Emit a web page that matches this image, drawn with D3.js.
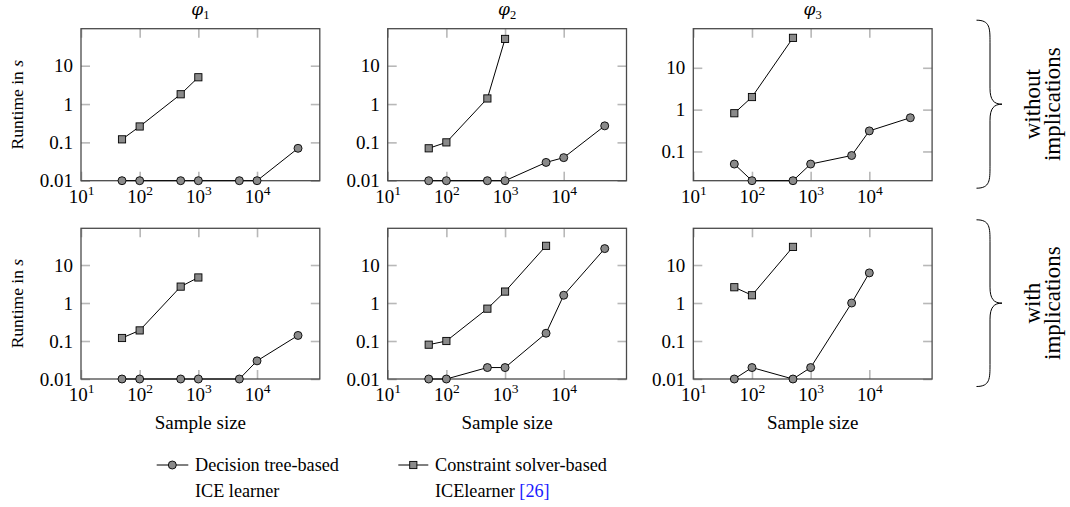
<!DOCTYPE html>
<html><head><meta charset="utf-8">
<script src="https://cdn.jsdelivr.net/npm/d3@7"></script>
</head><body style="margin:0;background:#fff"><svg id="c" width="1070" height="507"></svg>
<script>
// ---- data ----
const sampleSizes = [50, 100, 500, 1000, 5000, 10000, 50000];
const xTickValues = [10, 100, 1000, 10000];
const yTickValues = [0.01, 0.1, 1, 10];
const yTickLabels = ["0.01", "0.1", "1", "10"];
const formulaNames = ["1", "2", "3"];
const rowLabels = [["without", "implications"], ["with", "implications"]];

// Decision tree-based ICE learner, without implications
const treeWithout1 = [0.01, 0.01, 0.01, 0.01, 0.01, 0.01, 0.07];
const treeWithout2 = [0.01, 0.01, 0.01, 0.01, 0.03, 0.04, 0.27];
const treeWithout3 = [0.05, 0.02, 0.02, 0.05, 0.08, 0.31, 0.64];
// Constraint solver-based ICE learner, without implications
const solverWithout1 = [0.12, 0.26, 1.8, 5];
const solverWithout2 = [0.07, 0.1, 1.4, 50];
const solverWithout3 = [0.82, 2.0, 52];
// Decision tree-based, with implications
const treeWith1 = [0.01, 0.01, 0.01, 0.01, 0.01, 0.03, 0.14];
const treeWith2 = [0.01, 0.01, 0.02, 0.02, 0.16, 1.6, 27];
const treeWith3 = [0.01, 0.02, 0.01, 0.02, 1.0, 6.2];
// Constraint solver-based, with implications
const solverWith1 = [0.12, 0.19, 2.7, 4.7];
const solverWith2 = [0.08, 0.1, 0.71, 2.0, 32];
const solverWith3 = [2.6, 1.6, 30];

// axis ranges
const xDomain = [10, 117500];
const yDomainDefault = [0.01, 92.5];
const yDomainPhi3Without = [0.02, 86];

// ---- layout ----
const FONT = "Liberation Serif";
const svg = d3.select("#c");
const colX = [81, 387.7, 693.3];
const panelW = 238.8;
const rowY = [[28.7, 180.7], [228.3, 379]];
const tickLen = 9;

const panels = [
  {row:0, col:0, tree:treeWithout1, solver:solverWithout1, yd:yDomainDefault},
  {row:0, col:1, tree:treeWithout2, solver:solverWithout2, yd:yDomainDefault},
  {row:0, col:2, tree:treeWithout3, solver:solverWithout3, yd:yDomainPhi3Without},
  {row:1, col:0, tree:treeWith1, solver:solverWith1, yd:yDomainDefault},
  {row:1, col:1, tree:treeWith2, solver:solverWith2, yd:yDomainDefault},
  {row:1, col:2, tree:treeWith3, solver:solverWith3, yd:yDomainDefault},
];

const markerFill = "#8a8a8a";
const tickColor = "#b8b8b8";

function styleTicks(g){
  g.select(".domain").remove();
  g.selectAll(".tick line").attr("stroke", tickColor).attr("stroke-width", 1.6);
}

panels.forEach(p => {
  const x0 = colX[p.col], x1 = x0 + panelW;
  const [y0, y1] = rowY[p.row];
  const x = d3.scaleLog().domain(xDomain).range([x0, x1]);
  const y = d3.scaleLog().domain(p.yd).range([y1, y0]);
  const g = svg.append("g");

  const yt = yTickValues.filter(v => v >= p.yd[0] - 1e-9 && v <= p.yd[1]);
  const xt = xTickValues;

  const gb = g.append("g").attr("transform", `translate(0,${y1})`)
    .call(d3.axisBottom(x).tickValues(xt).tickSize(-tickLen).tickPadding(8.5).tickFormat(d => d));
  styleTicks(gb);
  gb.selectAll(".tick text").each(function(d){
    const t = d3.select(this);
    t.text(null).style("font-size", "19px").style("font-family", FONT).attr("fill", "#000");
    t.append("tspan").text("10");
    t.append("tspan").attr("dy", -8).style("font-size", "13.5px").text(Math.round(Math.log10(d)));
  });
  const gt = g.append("g").attr("transform", `translate(0,${y0})`)
    .call(d3.axisTop(x).tickValues(xt).tickSize(-tickLen).tickFormat(""));
  styleTicks(gt);
  const gl = g.append("g").attr("transform", `translate(${x0},0)`)
    .call(d3.axisLeft(y).tickValues(yt).tickSize(-tickLen).tickPadding(8)
      .tickFormat(d => yTickLabels[yTickValues.indexOf(d)]));
  styleTicks(gl);
  gl.selectAll(".tick text").style("font-size", "19px").style("font-family", FONT).attr("fill", "#000");
  const gr = g.append("g").attr("transform", `translate(${x1},0)`)
    .call(d3.axisRight(y).tickValues(yt).tickSize(-tickLen).tickFormat(""));
  styleTicks(gr);

  g.append("rect").attr("x", x0).attr("y", y0).attr("width", x1 - x0).attr("height", y1 - y0)
    .attr("fill", "none").attr("stroke", "#4a4a4a").attr("stroke-width", 1.3);

  const line = d3.line().x((d, i) => x(sampleSizes[i])).y(d => y(d));
  g.append("path").datum(p.tree).attr("d", line).attr("fill", "none").attr("stroke", "#000").attr("stroke-width", 1);
  g.selectAll("circle.t").data(p.tree).join("circle").attr("class", "t")
    .attr("cx", (d, i) => x(sampleSizes[i])).attr("cy", d => y(d)).attr("r", 4)
    .attr("fill", markerFill).attr("stroke", "#000").attr("stroke-width", 0.9);
  g.append("path").datum(p.solver).attr("d", line).attr("fill", "none").attr("stroke", "#000").attr("stroke-width", 1);
  g.selectAll("rect.s").data(p.solver).join("rect").attr("class", "s")
    .attr("x", (d, i) => x(sampleSizes[i]) - 3.6).attr("y", d => y(d) - 3.6)
    .attr("width", 7.2).attr("height", 7.2)
    .attr("fill", markerFill).attr("stroke", "#000").attr("stroke-width", 0.9);

  const cx = (x0 + x1) / 2, cy = (y0 + y1) / 2;
  if (p.col === 0) {
    const tl = svg.append("text").attr("transform", `translate(23,${cy}) rotate(-90)`)
      .attr("text-anchor", "middle").style("font-size", "17.5px").style("font-family", FONT);
    tl.append("tspan").text("Runtime in ");
    tl.append("tspan").style("font-style", "italic").text("s");
  }
  if (p.row === 1) {
    svg.append("text").attr("x", cx).attr("y", 429).attr("text-anchor", "middle")
      .style("font-size", "19px").style("font-family", FONT).text("Sample size");
  }
  if (p.row === 0) {
    const tt = svg.append("text").attr("x", cx).attr("y", 15).attr("text-anchor", "middle")
      .style("font-size", "18px").style("font-family", FONT);
    tt.append("tspan").style("font-style", "italic").style("font-family", "DejaVu Serif").style("font-size", "17px").text("φ");
    tt.append("tspan").attr("dy", 4).style("font-size", "12.5px").text(formulaNames[p.col]);
  }
});

// braces and row labels
rowY.forEach(([y0, y1], r) => {
  const top = y0 - 8.5, bot = y1 + 7.5, mid = (top + bot) / 2;
  const bx = 976.5, bm = 990, tip = 1002;
  const path = `M${bx},${top} C${bm},${top} ${bm},${top+8} ${bm},${top+22}
    L${bm},${mid-16} C${bm},${mid-4} ${bm+4},${mid} ${tip},${mid}
    C${bm+4},${mid} ${bm},${mid+4} ${bm},${mid+16}
    L${bm},${bot-22} C${bm},${bot-8} ${bm},${bot} ${bx},${bot}`;
  svg.append("path").attr("d", path).attr("fill", "none").attr("stroke", "#000").attr("stroke-width", 1);
  const t = svg.append("text").attr("transform", `translate(1040,${mid}) rotate(-90)`)
    .attr("text-anchor", "middle").style("font-size", "23px").style("font-family", FONT);
  t.append("tspan").attr("x", 0).attr("y", 0).text(rowLabels[r][0]);
  t.append("tspan").attr("x", 0).attr("y", 20).text(rowLabels[r][1]);
});

// legend
const leg = svg.append("g").style("font-family", FONT);
const ly = 465;
const LFS = "18.2px";
leg.append("line").attr("x1", 156.7).attr("x2", 188.3).attr("y1", ly).attr("y2", ly).attr("stroke", "#000");
leg.append("circle").attr("cx", 172.3).attr("cy", ly).attr("r", 4).attr("fill", markerFill).attr("stroke", "#000").attr("stroke-width", 0.9);
leg.append("text").attr("x", 195).attr("y", 471).style("font-size", LFS).text("Decision tree-based");
leg.append("text").attr("x", 195).attr("y", 497).style("font-size", LFS).text("ICE learner");
leg.append("line").attr("x1", 398.3).attr("x2", 428.3).attr("y1", ly).attr("y2", ly).attr("stroke", "#000");
leg.append("rect").attr("x", 413.3 - 3.6).attr("y", ly - 3.6).attr("width", 7.2).attr("height", 7.2).attr("fill", markerFill).attr("stroke", "#000").attr("stroke-width", 0.9);
leg.append("text").attr("x", 435).attr("y", 471).style("font-size", LFS).text("Constraint solver-based");
const l2 = leg.append("text").attr("x", 435).attr("y", 497).style("font-size", LFS);
l2.append("tspan").text("ICElearner ");
l2.append("tspan").attr("fill", "#1a1aff").text("[26]");
</script></body></html>
